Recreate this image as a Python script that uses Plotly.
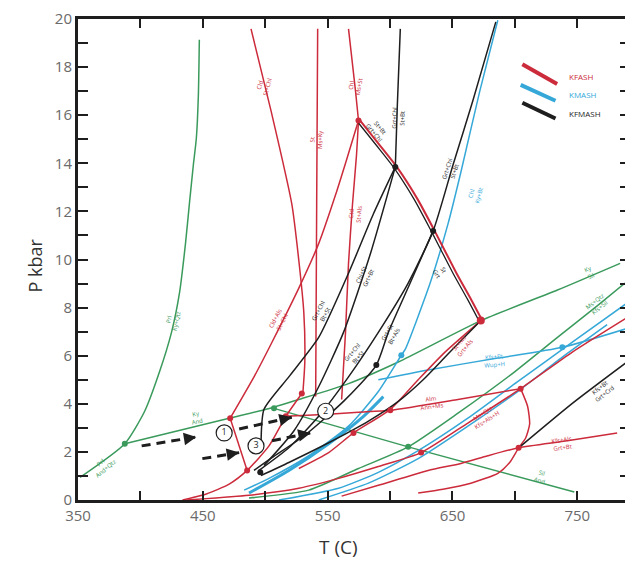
import plotly.graph_objects as go

RED = "#cc2b3b"
BLUE = "#35a8d8"
GREEN = "#3a9a5c"
BLACK = "#1e1e1e"

# ---------------- line data (T in C, P in kbar) ----------------
prl_T = [351.6, 387.5, 403.4, 415.3, 424.9, 431.3, 436.1, 439.2, 442.4, 444.8, 446.4, 447.2]
prl_P = [0.94, 2.34, 3.69, 5.33, 6.97, 8.61, 10.66, 12.30, 13.93, 15.04, 16.80, 19.14]
ky_T = [387.5, 471.1, 500.6, 526.9, 566.7, 606.6, 672.7, 734.1, 784.3]
ky_P = [2.34, 3.40, 3.77, 4.18, 4.84, 5.74, 7.46, 8.73, 9.84]
andsil_T = [507.0, 614.5, 747.6]
andsil_P = [3.81, 2.21, 0.33]
msq_T = [487.0, 534.9, 574.7, 614.5, 654.4, 699.8, 734.1, 765.9, 788.2]
msq_P = [0.08, 0.41, 1.31, 2.21, 3.61, 5.33, 6.76, 8.07, 9.02]

bl1_T = [686.3, 671.9, 656.8, 646.4, 632.1, 612.2, 609.0, 590.6, 566.7, 534.9, 503.0, 483.1]
bl1_P = [19.95, 17.01, 13.65, 11.48, 9.02, 6.27, 6.02, 4.51, 3.07, 1.84, 0.90, 0.41]
bl2_T = [590.6, 630.5, 686.3, 738.0, 792.2]
bl2_P = [5.00, 5.41, 5.90, 6.35, 7.17]
bl4_T = [511.0, 558.8, 590.6, 622.5, 662.3, 702.2, 746.0, 792.2]
bl4_P = [0.0, 0.49, 1.15, 2.05, 3.40, 4.92, 6.56, 8.28]
bl5_T = [542.8, 582.7, 622.5, 662.3, 702.2, 738.0, 773.9]
bl5_P = [0.0, 0.70, 1.72, 3.07, 4.51, 5.94, 7.29]
bl6_T = [487.0, 518.9, 550.8, 578.7, 594.6]
bl6_P = [0.29, 1.23, 2.34, 3.48, 4.30]

r1_T = [488.6, 504.6, 521.3, 526.9, 530.9, 531.7, 530.1]
r1_P = [19.59, 16.19, 12.30, 9.96, 7.79, 5.74, 4.43]
r2_T = [542.0, 541.2, 540.4]
r2_P = [19.59, 12.30, 4.30]
r3a_T = [566.7, 572.3, 574.7]
r3a_P = [19.59, 17.01, 15.78]
r3b_T = [471.9, 491.0, 505.4, 526.9, 542.8, 556.4, 565.1, 574.7]
r3b_P = [3.40, 5.12, 6.56, 8.81, 10.66, 12.70, 14.14, 15.78]
r3c_T = [574.7, 573.1, 569.9, 566.7, 564.3, 561.2]
r3c_P = [15.78, 14.34, 12.30, 9.84, 6.97, 4.18]
r4_T = [471.9, 485.5]
r4_P = [3.40, 1.23]
r15_T = [433.7, 452.8, 471.1, 485.5, 503.0, 516.5, 529.3]
r15_P = [0.0, 0.25, 0.66, 1.23, 2.25, 3.48, 4.43]
r6_T = [436.9, 487.0, 526.9, 558.8, 590.6, 624.9, 662.3, 704.6, 746.0, 792.2]
r6_P = [0.0, 0.20, 0.49, 0.90, 1.39, 1.97, 3.20, 4.63, 6.15, 7.66]
r7_T = [516.5, 550.8, 574.7, 600.2, 654.4, 704.6]
r7_P = [3.48, 3.57, 3.65, 3.73, 4.18, 4.63]
r8_T = [672.7, 644.0, 622.5, 600.2, 570.7, 550.8, 526.9]
r8_P = [7.46, 6.15, 5.00, 3.77, 2.79, 1.97, 1.31]
r9_T = [704.6, 710.2, 711.8, 708.6, 703.0, 695.8, 686.3, 664.7, 642.4, 622.5]
r9_P = [4.63, 3.89, 3.16, 2.58, 2.17, 1.56, 1.11, 0.70, 0.45, 0.29]
r10_T = [561.2, 590.6, 630.5, 656.8, 678.3, 703.0, 742.0, 781.9]
r10_P = [0.16, 0.61, 1.23, 1.52, 1.84, 2.17, 2.46, 2.79]

kf_T = [574.7, 590.6, 604.2, 620.9, 634.5, 652.0, 663.9, 672.7]
kf_P = [15.78, 14.75, 13.85, 12.50, 11.19, 9.43, 8.32, 7.46]
bv_T = [604.2, 605.8, 608.2]
bv_P = [13.85, 16.39, 19.59]
b2_T = [496.6, 499.0, 518.9, 542.8, 566.7, 586.6, 604.2]
b2_P = [2.25, 3.77, 5.12, 6.76, 9.43, 11.89, 13.85]
b3_T = [604.2, 584.3, 562.7, 542.8, 522.9, 499.0]
b3_P = [13.85, 10.25, 6.97, 4.71, 2.87, 1.43]
b5_T = [495.0, 518.9, 542.8, 566.7, 590.6, 614.5, 634.5, 650.4, 666.3, 684.7]
b5_P = [1.23, 2.17, 3.48, 5.12, 6.97, 9.02, 11.19, 13.93, 16.60, 19.88]
b6_T = [634.5, 616.1, 598.6, 589.0, 562.7, 530.9, 505.4, 491.0]
b6_P = [11.19, 9.02, 6.97, 5.61, 4.10, 2.66, 1.76, 1.23]
b7_T = [672.7, 646.4, 626.5, 606.6, 582.7, 550.8, 518.9, 496.6]
b7_P = [7.46, 6.07, 5.00, 4.10, 3.28, 2.38, 1.56, 1.02]
b9_T = [703.0, 746.0, 789.8]
b9_P = [2.17, 4.02, 5.74]

# invariant points
red_pts_T = [471.9, 485.5, 516.5, 529.3, 574.7, 600.2, 570.7, 624.9, 704.6, 703.0]
red_pts_P = [3.40, 1.23, 3.48, 4.43, 15.78, 3.73, 2.79, 1.97, 4.63, 2.17]
blk_pts_T = [604.2, 634.5, 589.0, 496.0]
blk_pts_P = [13.85, 11.19, 5.61, 1.15]
grn_pts_T = [387.5, 507.0, 614.5]
grn_pts_P = [2.34, 3.81, 2.21]
blu_pts_T = [609.0, 738.0]
blu_pts_P = [6.02, 6.35]
big_pt_T = [672.7]
big_pt_P = [7.46]

# P-T paths
path1a_T = [401.0, 444.8]
path1a_P = [2.25, 2.62]
path1b_T = [479.1, 521.3]
path1b_P = [2.95, 3.44]
path2a_T = [449.6, 479.1]
path2a_P = [1.72, 1.97]
path2b_T = [505.4, 536.4]
path2b_P = [2.46, 2.79]
circ_T = [467.1, 548.4, 492.6]
circ_P = [2.79, 3.69, 2.25]
circ_txt = ["1", "2", "3"]

# axis ticks
x_ticks = [350, 400, 450, 500, 550, 600, 650, 700, 750]
x_ticklabels = ["350", "", "450", "", "550", "", "650", "", "750"]
y_ticks = list(range(0, 21))
y_ticklabels = [str(v) if v % 2 == 0 else "" for v in y_ticks]

fig = go.Figure()


def line(T, P, color, width=1.5, dash=None):
    fig.add_trace(go.Scatter(x=T, y=P, mode="lines",
                             line=dict(color=color, width=width, dash=dash, shape="spline", smoothing=0.6),
                             hoverinfo="skip", showlegend=False))


for T, P in [(prl_T, prl_P), (ky_T, ky_P), (andsil_T, andsil_P), (msq_T, msq_P)]:
    line(T, P, GREEN)
for T, P in [(bl1_T, bl1_P), (bl2_T, bl2_P), (bl4_T, bl4_P), (bl5_T, bl5_P)]:
    line(T, P, BLUE)
line(bl6_T, bl6_P, BLUE, 3)
for T, P in [(r1_T, r1_P), (r2_T, r2_P), (r3a_T, r3a_P), (r3b_T, r3b_P), (r3c_T, r3c_P),
             (r4_T, r4_P), (r15_T, r15_P), (r6_T, r6_P), (r7_T, r7_P), (r8_T, r8_P),
             (r9_T, r9_P), (r10_T, r10_P)]:
    line(T, P, RED)
line([t + 1.2 for t in kf_T], kf_P, RED, 2)
line([t - 1.6 for t in kf_T], kf_P, BLACK, 1.3)
for T, P in [(bv_T, bv_P), (b2_T, b2_P), (b3_T, b3_P), (b5_T, b5_P), (b6_T, b6_P),
             (b7_T, b7_P), (b9_T, b9_P)]:
    line(T, P, BLACK)

for T, P in [(path1a_T, path1a_P), (path1b_T, path1b_P), (path2a_T, path2a_P), (path2b_T, path2b_P)]:
    fig.add_trace(go.Scatter(x=T, y=P, mode="lines", line=dict(color=BLACK, width=3, dash="9px,6px"),
                             hoverinfo="skip", showlegend=False))
    fig.add_annotation(x=T[-1], y=P[-1], ax=T[-1] - (T[-1] - T[0]) * 0.15, ay=P[-1] - (P[-1] - P[0]) * 0.15,
                       xref="x", yref="y", axref="x", ayref="y", showarrow=True, arrowhead=2,
                       arrowsize=1, arrowwidth=2.5, arrowcolor=BLACK, text="")

for T, P, c, s in [(red_pts_T, red_pts_P, RED, 6), (blk_pts_T, blk_pts_P, BLACK, 6),
                   (grn_pts_T, grn_pts_P, GREEN, 6), (blu_pts_T, blu_pts_P, BLUE, 6),
                   (big_pt_T, big_pt_P, RED, 8)]:
    fig.add_trace(go.Scatter(x=T, y=P, mode="markers", marker=dict(color=c, size=s),
                             hoverinfo="skip", showlegend=False))

fig.add_trace(go.Scatter(x=circ_T, y=circ_P, mode="markers+text", text=circ_txt,
                         textposition="middle center",
                         textfont=dict(size=9, color=BLACK, family="Open Sans"),
                         marker=dict(size=16, color="white", line=dict(color=BLACK, width=1.2)),
                         hoverinfo="skip", showlegend=False))

# reaction labels
labels = [
    (425.7, 7.46, "Prl<br>Ky+Qtz", GREEN, -78),
    (369.9, 1.43, "Prl<br>And+Qtz", GREEN, -40),
    (444.8, 3.40, "Ky<br>And", GREEN, -12),
    (759.6, 9.45, "Ky<br>Sil", GREEN, -25),
    (720.5, 0.95, "Sil<br>And", GREEN, 17),
    (765.9, 8.10, "Ms+Qtz<br>Kfs+Sil", GREEN, -38),
    (769.9, 4.55, "Kfs+Bt<br>Grt+Crd", BLACK, -38),
    (683.9, 5.80, "Kfs+Bt<br>Wup+H", BLUE, -5),
    (632.9, 4.02, "Alm<br>Ann+Ms", RED, -8),
    (675.9, 3.45, "Ms+Qtz<br>Kfs+Als+H", RED, -33),
    (738.0, 2.34, "Kfs+Als<br>Grt+Bt", RED, -8),
    (658.4, 6.43, "St+Ms<br>Grt+Als", RED, -50),
    (606.6, 15.86, "Grt+Chl<br>St+Bt", BLACK, -88),
    (572.3, 17.21, "Chl<br>Ms+St", RED, -80),
    (541.2, 14.96, "St<br>Ms+Ky", RED, -89),
    (499.0, 17.21, "Cld<br>St+Chl", RED, -75),
    (511.0, 7.50, "Cld+Als<br>St+Chl", RED, -62),
    (572.3, 11.89, "Ctd<br>St+Als", RED, -85),
    (648.8, 13.73, "Grt+Chl<br>St+Bt", BLACK, -72),
    (668.0, 12.70, "Chl<br>Ky+Bt", BLUE, -75),
    (545.2, 7.79, "Grt+Chl<br>Bt+St", BLACK, -62),
    (580.3, 9.30, "Chl+St<br>Grt+Bt", BLACK, -65),
    (572.3, 6.02, "Grt+Chl<br>Bt+St", BLACK, -50),
    (601.0, 6.89, "Grt+St<br>Bt+Als", BLACK, -60),
    (589.0, 15.37, "St+Bt<br>Grt+Chl", BLACK, 50),
    (640.0, 9.50, "St<br>Grt", BLACK, 60),
]
for x, y, t, c, a in labels:
    fig.add_annotation(x=x, y=y, text=t, showarrow=False, textangle=a,
                       font=dict(size=6, color=c, family="Open Sans"), xref="x", yref="y")

# legend keys
for (x0, y0, x1, y1, c, name, ty) in [
    (0.805, 0.906, 0.868, 0.865, RED, "KFASH", 0.881),
    (0.802, 0.863, 0.865, 0.830, BLUE, "KMASH", 0.844),
    (0.805, 0.826, 0.865, 0.793, BLACK, "KFMASH", 0.803),
]:
    fig.add_shape(type="line", xref="paper", yref="paper", x0=x0, y0=y0, x1=x1, y1=y1,
                  line=dict(color=c, width=4))
    fig.add_annotation(x=0.886, y=ty, xref="paper", yref="paper", text=name, showarrow=False,
                       xanchor="left", yanchor="middle", font=dict(size=8, color=c, family="Open Sans"))

fig.add_annotation(x=-0.0775, y=0.488, xref="paper", yref="paper", text="P kbar", showarrow=False,
                   xanchor="center", yanchor="middle",
                   textangle=-90, font=dict(size=18, color="#333333", family="Open Sans"))
fig.add_annotation(x=0.472, y=-0.098, xref="paper", yref="paper", text="T (C)", showarrow=False,
                   xanchor="center", yanchor="middle",
                   font=dict(size=19, color="#333333", family="Open Sans"))

fig.update_xaxes(range=[350, 792.2], tickmode="array", tickvals=x_ticks, ticktext=x_ticklabels,
                 ticks="inside", ticklen=9, tickwidth=2, tickcolor=BLACK,
                 showline=True, linewidth=3, linecolor=BLACK, mirror="ticks", showgrid=False,
                 zeroline=False, ticklabeloverflow="allow",
                 tickfont=dict(size=15, color="#6a6a6a", family="Open Sans"))
fig.update_yaxes(range=[0, 20], tickmode="array", tickvals=y_ticks, ticktext=y_ticklabels,
                 ticks="inside", ticklen=10, tickwidth=2, tickcolor=BLACK,
                 showline=True, linewidth=3, linecolor=BLACK, mirror="ticks", showgrid=False,
                 zeroline=False, ticklabeloverflow="allow",
                 tickfont=dict(size=15, color="#6a6a6a", family="Open Sans"))

fig.update_layout(width=625, height=555, margin=dict(l=70, r=0, t=4, b=63),
                  plot_bgcolor="white", paper_bgcolor="white", showlegend=False)

fig.write_html("out.html")
